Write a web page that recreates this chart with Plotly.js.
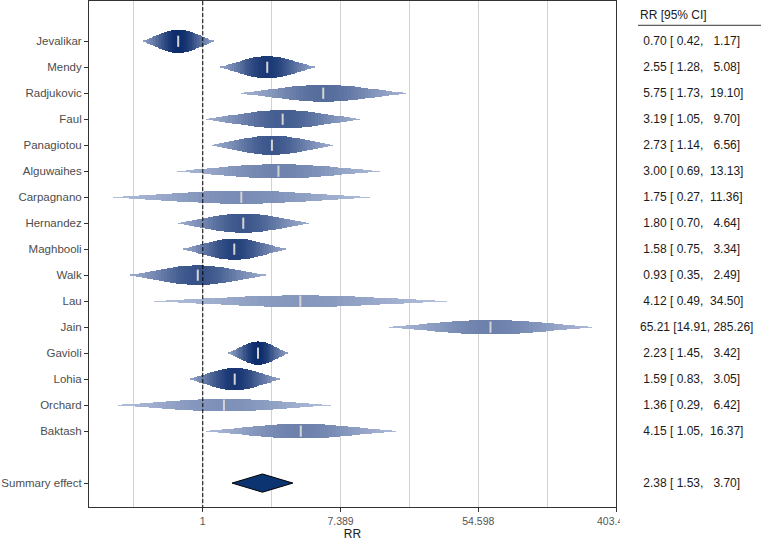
<!DOCTYPE html>
<html>
<head>
<meta charset="utf-8">
<script src="https://cdn.plot.ly/plotly-3.0.1.min.js"></script>
<style>html,body{margin:0;padding:0;background:#fff;}#chart{width:761px;height:542px;}</style>
</head>
<body>
<div id="chart"></div>
<script>
// ---- data ----
const studies = ['Jevalikar','Mendy','Radjukovic','Faul','Panagiotou','Alguwaihes','Carpagnano','Hernandez','Maghbooli','Walk','Lau','Jain','Gavioli','Lohia','Orchard','Baktash'];
const rr    = [0.70, 2.55, 5.75, 3.19, 2.73, 3.00, 1.75, 1.80, 1.58, 0.93, 4.12, 65.21, 2.23, 1.59, 1.36, 4.15];
const lower = [0.42, 1.28, 1.73, 1.05, 1.14, 0.69, 0.27, 0.70, 0.75, 0.35, 0.49, 14.91, 1.45, 0.83, 0.29, 1.05];
const upper = [1.17, 5.08, 19.10, 9.70, 6.56, 13.13, 11.36, 4.64, 3.34, 2.49, 34.50, 285.26, 3.42, 3.05, 6.42, 16.37];
// relative study weight (read from drop heights / shading)
const relWeight = [1.00, 0.95, 0.72, 0.79, 0.82, 0.61, 0.56, 0.82, 0.91, 0.84, 0.50, 0.62, 1.00, 0.96, 0.54, 0.62];
const summaryLabel = 'Summary effect';
const summaryRR = 2.38, summaryLower = 1.53, summaryUpper = 3.70;
const xTickVals = [1, 7.389, 54.598, 403.429];
const xTickText = ['1', '7.389', '54.598', '403.429'];
const xMinorVals = [0.3679, 2.718, 20.09, 148.4];
const tableHeader = 'RR [95% CI]';

// ---- layout helpers ----
const n = studies.length;
const yPos = studies.map((s, i) => 18 - i);   // 18 .. 3
const ySummary = 1;
const maxH = 0.9;         // full drop height (y units) for weight 1
const nSeg = 48;
const dark = [12, 44, 107], light = [200, 210, 234];
function mix(k) {
  const c = dark.map((d, j) => Math.round(light[j] + (d - light[j]) * k));
  return 'rgb(' + c.join(',') + ')';
}
const tEnd = Math.exp(-1.96 * 1.96 / 2);

// rainforest drops as stepped segments (horizontal bars with base)
const bx = [], bbase = [], by = [], bw = [], bc = [];
for (let i = 0; i < n; i++) {
  const L = Math.log(lower[i]), U = Math.log(upper[i]), m = Math.log(rr[i]);
  const se = (U - L) / 3.92;
  const step = (U - L) / nSeg;
  for (let j = 0; j < nSeg; j++) {
    const a = L + j * step, b = a + step, c = (a + b) / 2;
    const z = (c - m) / se;
    const t = Math.exp(-z * z / 2);
    const tn = Math.max(0, (t - tEnd) / (1 - tEnd));
    bbase.push(Math.exp(a));
    bx.push(Math.exp(b) * 1.004 - Math.exp(a));
    by.push(yPos[i]);
    bw.push(maxH * relWeight[i] * Math.max(Math.pow(tn, 0.75), 0.07));
    bc.push(mix(Math.pow(relWeight[i], 1.5) * (0.3 + 0.7 * Math.pow(tn, 0.9))));
  }
}

const fmt = (v, w) => { let s = v.toFixed(2); while (s.length < w) s = '\u00a0' + s; return s; };
const rowText = (e, l, u) => fmt(e, 5) + ' [' + fmt(l, 5) + ', ' + fmt(u, 6) + ']';

const traces = [
  {
    type: 'bar', orientation: 'h', x: bx, base: bbase, y: by, width: bw,
    marker: {color: bc, line: {width: 0}}, hoverinfo: 'skip', showlegend: false
  },
  {
    type: 'scatter', mode: 'markers', x: rr, y: yPos,
    marker: {symbol: 'line-ns', size: 8, line: {color: '#d4d4d4', width: 2}},
    hoverinfo: 'skip', showlegend: false
  },
  {
    type: 'scatter', mode: 'lines',
    x: [summaryLower, summaryRR, summaryUpper, summaryRR, summaryLower],
    y: [ySummary, ySummary + 0.35, ySummary, ySummary - 0.35, ySummary],
    fill: 'toself', fillcolor: '#0b3471', line: {color: '#000', width: 1},
    hoverinfo: 'skip', showlegend: false
  },
  {
    type: 'scatter', mode: 'lines', x: [1, 1], y: [0, 20],
    line: {color: '#000', width: 1, dash: '4px,2px'}, hoverinfo: 'skip', showlegend: false
  }
];

const annotations = studies.map((s, i) => ({
  xref: 'paper', yref: 'y', x: 1.0418, y: yPos[i], xanchor: 'left', yanchor: 'middle',
  text: rowText(rr[i], lower[i], upper[i]), showarrow: false,
  font: {family: 'Liberation Sans, Arial, sans-serif', size: 12, color: '#1a1a1a'}
}));
annotations.push({
  xref: 'paper', yref: 'y', x: 1.0418, y: ySummary, xanchor: 'left', yanchor: 'middle',
  text: rowText(summaryRR, summaryLower, summaryUpper), showarrow: false,
  font: {family: 'Liberation Sans, Arial, sans-serif', size: 12, color: '#1a1a1a'}
});
annotations.push({
  xref: 'paper', yref: 'paper', x: 1.0418, y: 0.972, xanchor: 'left', yanchor: 'middle',
  text: tableHeader, showarrow: false,
  font: {family: 'Liberation Sans, Arial, sans-serif', size: 12, color: '#1a1a1a'}
});

const layout = {
  width: 761, height: 542,
  margin: {l: 89, r: 145, t: 1, b: 35, pad: 0},
  paper_bgcolor: '#fff', plot_bgcolor: '#fff',
  barmode: 'overlay', bargap: 0,
  font: {family: 'Liberation Sans, Arial, sans-serif'},
  xaxis: {
    type: 'log', range: [-1.652 / Math.LN10, 6.0 / Math.LN10],
    tickmode: 'array', tickvals: xTickVals, ticktext: xTickText,
    ticks: 'outside', ticklen: 4, tickcolor: '#333', tickwidth: 1,
    tickfont: {size: 10.5, color: '#555'},
    showgrid: true, gridcolor: '#d2d2d2', gridwidth: 1,
    minor: {tickvals: xMinorVals, showgrid: true, gridcolor: '#d2d2d2', gridwidth: 1, ticks: ''},
    showline: true, linecolor: '#333', linewidth: 1, mirror: true,
    zeroline: false,
    title: {text: 'RR', standoff: 4, font: {size: 12, color: '#222'}}
  },
  yaxis: {
    range: [0.08, 19.55],
    tickmode: 'array', tickvals: yPos.concat([ySummary]), ticktext: studies.concat([summaryLabel]),
    ticks: 'outside', ticklen: 4, tickcolor: '#333', tickwidth: 1,
    tickfont: {size: 11.5, color: '#4d4d4d'},
    showgrid: false, zeroline: false,
    showline: true, linecolor: '#333', linewidth: 1, mirror: true
  },
  annotations: annotations,
  shapes: [
    {type: 'line', xref: 'paper', yref: 'paper', x0: 1.0418, x1: 1.28, y0: 0.952, y1: 0.952,
     line: {color: '#333', width: 1}},
    {type: 'rect', xref: 'paper', yref: 'paper', x0: 1.0076, x1: 1.08, y0: -0.065, y1: -0.012,
     fillcolor: '#fff', line: {width: 0}, layer: 'above'}
  ]
};

Plotly.newPlot('chart', traces, layout, {staticPlot: true, displayModeBar: false});
</script>
</body>
</html>
